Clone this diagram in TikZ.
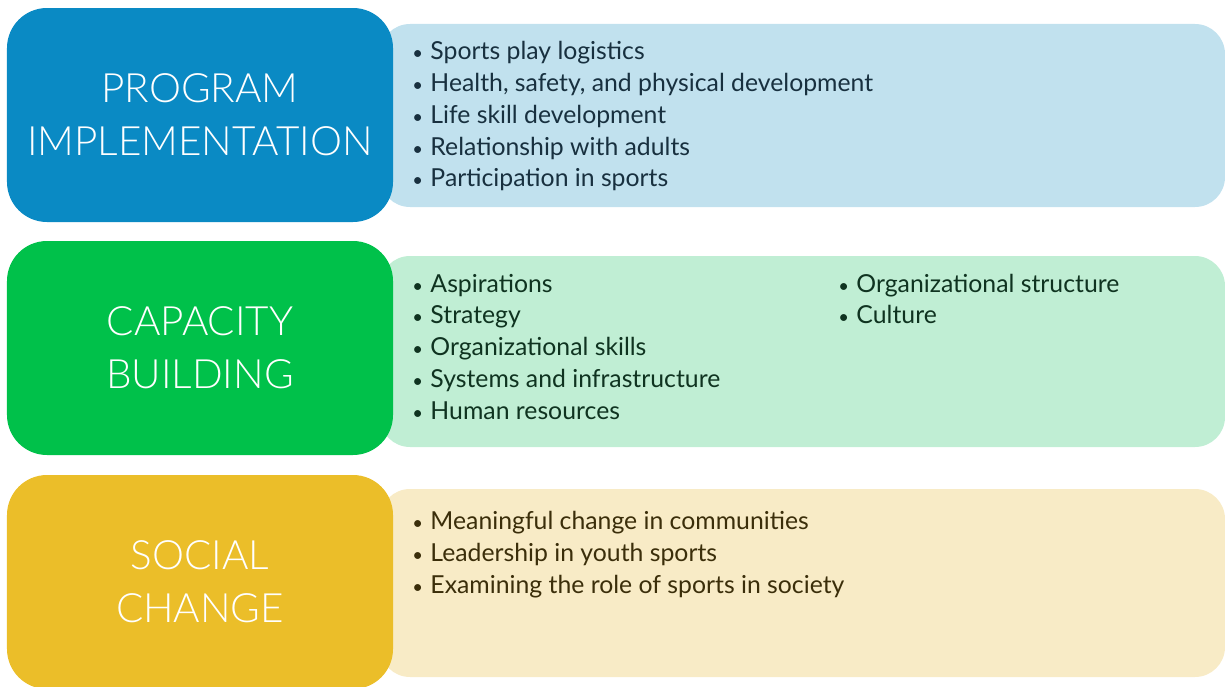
\documentclass[tikz,border=0pt]{standalone}
\usepackage{fontspec}
\setmainfont{Lato}
\newfontfamily\headfont{Lato Light}
\usetikzlibrary{positioning}

\definecolor{progdark}{HTML}{0A8AC4}
\definecolor{proglight}{HTML}{C1E1EE}
\definecolor{progtext}{HTML}{18303F}
\definecolor{capdark}{HTML}{00C14A}
\definecolor{caplight}{HTML}{C0EED4}
\definecolor{captext}{HTML}{0F3320}
\definecolor{socdark}{HTML}{EBBE29}
\definecolor{soclight}{HTML}{F8EBC6}
\definecolor{soctext}{HTML}{3B2E0A}

\newcommand{\itm}{{\fontsize{10.5}{10}\selectfont•}\hspace{0.3em}}

\begin{document}
\begin{tikzpicture}[every node/.style={inner sep=0pt},
    head/.style={rounded corners=0.8cm, minimum width=7.72cm, minimum height=4.28cm,
                 text=white, align=center, font=\headfont\fontsize{23}{30}\selectfont},
    detail/.style={rounded corners=0.6cm, minimum width=16.9cm},
    items/.style={anchor=north west, align=left, font=\fontsize{14.1}{18.1}\selectfont}]

    \useasboundingbox (0,0) rectangle (24.5,-13.74);
    \clip (0,0) rectangle (24.5,-13.74);

    % light panels behind the headings
    \node[detail, fill=proglight, minimum height=3.66cm] (progD) at (16.05,-2.31) {};
    \node[detail, fill=caplight,  minimum height=3.82cm] (capD)  at (16.05,-7.03) {};
    \node[detail, fill=soclight,  minimum height=3.76cm] (socD)  at (16.05,-11.66) {};

    % headings
    \node[head, fill=progdark] (prog) at (4.0,-2.3)  {PROGRAM\\IMPLEMENTATION};
    \node[head, fill=capdark]  (cap)  at (4.0,-6.96) {CAPACITY\\BUILDING};
    \node[head, fill=socdark]  (soc)  at (4.0,-11.64) {SOCIAL\\CHANGE};

    % bullet lists
    \node[items, text=progtext] (progL) at (8.24,-0.82) {%
        \itm Sports play logistics\\
        \itm Health, safety, and physical development\\
        \itm Life skill development\\
        \itm Relationship with adults\\
        \itm Participation in sports};
    \node[items, text=captext] (capL) at (8.24,-5.47) {%
        \itm Aspirations\\
        \itm Strategy\\
        \itm Organizational skills\\
        \itm Systems and infrastructure\\
        \itm Human resources};
    \node[items, text=captext] (capR) at (16.76,-5.47) {%
        \itm Organizational structure\\
        \itm Culture};
    \node[items, text=soctext] (socL) at (8.24,-10.22) {%
        \itm Meaningful change in communities\\
        \itm Leadership in youth sports\\
        \itm Examining the role of sports in society};
\end{tikzpicture}
\end{document}
